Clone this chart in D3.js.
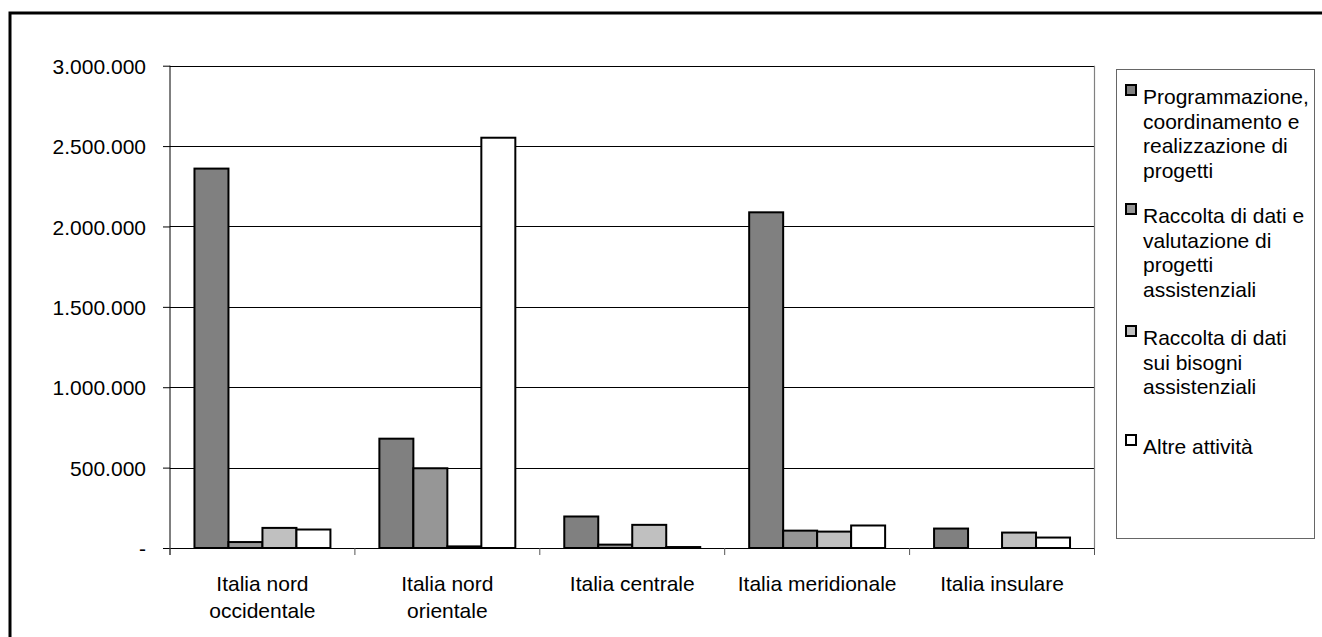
<!DOCTYPE html>
<html>
<head>
<meta charset="utf-8">
<script src="https://cdn.jsdelivr.net/npm/d3@7"></script>
<style>
  body { margin: 0; background: #fff; }
  text { font-family: "Liberation Sans", Arial, sans-serif; fill: #000; }
</style>
</head>
<body>
<div id="main"></div>
<script>
// categorie (regioni) e serie
const regioni = [["Italia nord", "occidentale"], ["Italia nord", "orientale"], ["Italia centrale"], ["Italia meridionale"], ["Italia insulare"]]
const serieNomi = [
  ["Programmazione,", "coordinamento e", "realizzazione di", "progetti"],
  ["Raccolta di dati e", "valutazione di", "progetti", "assistenziali"],
  ["Raccolta di dati", "sui bisogni", "assistenziali"],
  ["Altre attività"]
]
const programmazione = [2360000, 680000, 196000, 2088000, 121000]
const valutazione = [37000, 496000, 21000, 108000, 0]
const bisogni = [125000, 10000, 144000, 102000, 96000]
const altre = [115000, 2552000, 6000, 140000, 65000]
const yTicks = [0, 500000, 1000000, 1500000, 2000000, 2500000, 3000000]

const colori = ["#808080", "#969696", "#c0c0c0", "#ffffff"]
const serie = [programmazione, valutazione, bisogni, altre]

const W = 1322, H = 637
const plot = { left: 170, right: 1094.5, top: 65.7, bottom: 548 }

const svg = d3.select("#main").append("svg").attr("width", W).attr("height", H)

// cornice esterna
svg.append("rect").attr("x", 10).attr("y", 13).attr("width", W + 20).attr("height", H + 20)
  .attr("fill", "none").attr("stroke", "#000").attr("stroke-width", 3)

const it = d3.formatLocale({ decimal: ",", thousands: ".", grouping: [3], currency: ["€", ""] })
const fmt = it.format(",.0f")

const y = d3.scaleLinear().domain([0, 3000000]).range([plot.bottom, plot.top])
const x0 = d3.scaleBand().domain(d3.range(regioni.length)).range([plot.left, plot.right]).paddingInner(0).paddingOuter(0)
const x1 = d3.scaleBand().domain(d3.range(serie.length)).range([0, x0.bandwidth()]).paddingOuter(0.72)

// griglia
svg.append("g").selectAll("line").data(yTicks.slice(1)).enter().append("line")
  .attr("x1", plot.left).attr("x2", plot.right)
  .attr("y1", d => Math.round(y(d)) + 0.5).attr("y2", d => Math.round(y(d)) + 0.5)
  .attr("stroke", "#000").attr("stroke-width", 1)

// bordo destro area del grafico
svg.append("line").attr("x1", plot.right).attr("x2", plot.right).attr("y1", plot.top).attr("y2", plot.bottom)
  .attr("stroke", "#808080").attr("stroke-width", 1.2)

// barre
const gruppi = svg.append("g").selectAll("g").data(regioni).enter().append("g")
  .attr("transform", (d, i) => `translate(${x0(i)},0)`)
gruppi.selectAll("rect").data((d, i) => serie.map((s, j) => ({ v: s[i], j: j })).filter(e => e.v > 0))
  .enter().append("rect")
  .attr("x", d => x1(d.j)).attr("width", x1.bandwidth())
  .attr("y", d => y(d.v)).attr("height", d => y(0) - y(d.v))
  .attr("fill", d => colori[d.j]).attr("stroke", "#000").attr("stroke-width", 2)

// asse y
const yAxis = svg.append("g").attr("transform", `translate(${plot.left},0)`)
  .call(d3.axisLeft(y).tickValues(yTicks).tickSize(7).tickPadding(17).tickFormat(d => d === 0 ? "-" : fmt(d)))
yAxis.select(".domain").attr("stroke", "#000").attr("d", `M0,${plot.top}V${plot.bottom + 7}`)
yAxis.selectAll(".tick line").attr("stroke", "#000")
yAxis.selectAll("text").attr("font-size", 21).attr("font-family", "Liberation Sans, Arial, sans-serif")
  .attr("dy", "0.36em")

// asse x
const xAxis = svg.append("g").attr("transform", `translate(0,${plot.bottom})`)
xAxis.append("line").attr("x1", plot.left).attr("x2", plot.right).attr("y1", 0.5).attr("y2", 0.5).attr("stroke", "#000")
xAxis.selectAll("line.tk").data(d3.range(regioni.length + 1)).enter().append("line").attr("class", "tk")
  .attr("x1", i => plot.left + i * x0.bandwidth()).attr("x2", i => plot.left + i * x0.bandwidth())
  .attr("y1", 0).attr("y2", 7).attr("stroke", "#555")
xAxis.selectAll("text").data(regioni).enter().append("text")
  .attr("x", (d, i) => x0(i) + x0.bandwidth() / 2).attr("y", 43)
  .attr("text-anchor", "middle").attr("font-size", 21)
  .selectAll("tspan").data(d => d).enter().append("tspan")
  .attr("x", function () { return this.parentNode.getAttribute("x") })
  .attr("dy", (d, i) => i === 0 ? 0 : 26.5).text(d => d)

// legenda
const leg = svg.append("g")
leg.append("rect").attr("x", 1116.5).attr("y", 69.5).attr("width", 198).attr("height", 469)
  .attr("fill", "#fff").attr("stroke", "#666").attr("stroke-width", 1)
const legY = [104, 223, 345, 454]
const voci = leg.selectAll("g").data(serieNomi).enter().append("g")
  .attr("transform", (d, i) => `translate(1126,${legY[i]})`)
voci.append("rect").attr("x", 0).attr("y", -19).attr("width", 10).attr("height", 10)
  .attr("fill", (d, i) => colori[i]).attr("stroke", "#000").attr("stroke-width", 2)
voci.append("text").attr("x", 17).attr("font-size", 21)
  .selectAll("tspan").data(d => d).enter().append("tspan")
  .attr("x", 17).attr("dy", (d, i) => i === 0 ? 0 : 24.5).text(d => d)
</script>
</body>
</html>
